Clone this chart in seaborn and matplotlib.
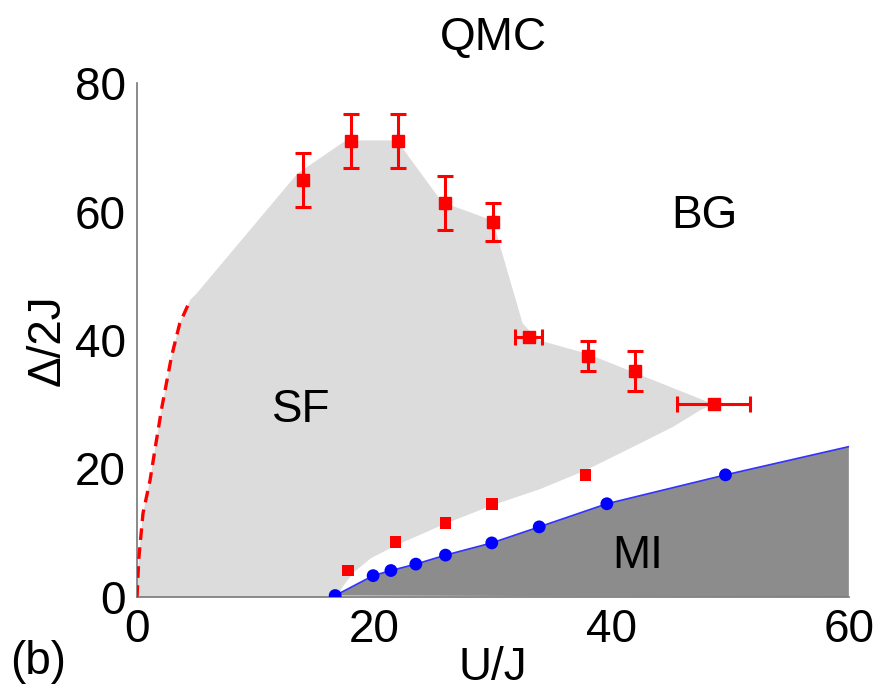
import matplotlib
matplotlib.use("Agg")
import matplotlib.pyplot as plt
import numpy as np
import pandas as pd
import seaborn as sns

# QMC points with error bars (upper SF / BG boundary)
U_top = [14, 18, 22, 26, 30, 33, 38, 42, 48.6]
D_top = [65.0, 71.0, 71.0, 61.3, 58.4, 40.5, 37.5, 35.2, 30.0]
D_err = [4.2, 4.2, 4.2, 4.2, 3.0, 0, 2.3, 3.1, 0]
U_err = [0, 0, 0, 0, 0, 1.1, 0, 0, 3.1]

# lower red squares (SF / BG, no error bars)
U_low = [17.8, 21.8, 26.0, 29.9, 37.8]
D_low = [4.1, 8.5, 11.5, 14.5, 19.0]

# MI boundary (blue dots + line to the edge)
U_mi = [16.7, 19.9, 21.4, 23.5, 26.0, 29.9, 33.9, 39.6, 49.6, 60]
D_mi = [0.2, 3.3, 4.1, 5.1, 6.5, 8.4, 10.9, 14.5, 19.0, 23.4]
n_dots = 9

# dashed red line at small U/J
U_dash = [0, 0.15, 0.5, 1.1, 1.6, 2.1, 2.9, 3.6, 4.5]
D_dash = [0, 6, 13, 18.2, 24, 29.6, 37.4, 42.6, 46.3]

# light gray SF region, upper edge then lower edge
U_sf_up = [5.0, 13.5, 17.6, 21.9, 25.7, 30.0, 30.5, 32.5, 33.8, 37.9, 48.6]
D_sf_up = [47.2, 65.9, 71.1, 71.1, 61.5, 58.6, 55.3, 42.6, 40.0, 37.9, 30.0]
U_sf_low = [48.6, 47.5, 45.2, 42.4, 37.8, 34.0, 30.0, 26.0, 21.8, 19.7, 18.2, 17.3, 16.9]
D_sf_low = [30.0, 29.1, 26.5, 23.9, 19.7, 16.8, 14.3, 11.4, 8.0, 6.0, 3.7, 1.5, 0]

sns.set_style("white")
plt.rcParams['font.family'] = ['Liberation Sans', 'DejaVu Sans']
for k in ["text.color", "axes.labelcolor", "xtick.labelcolor", "ytick.labelcolor"]:
    plt.rcParams[k] = "black"
fs = 33

fig = plt.figure(figsize=(8.87, 6.94), dpi=100)
ax = fig.add_axes([0.1545, 0.140, 0.8025, 0.740])

# regions
poly_u = U_dash + U_sf_up + U_sf_low
poly_d = D_dash + D_sf_up + D_sf_low
ax.fill(poly_u, poly_d, color="#dcdcdc", lw=0, zorder=0)
ax.fill(U_mi + [60], D_mi + [0], color="#8c8c8c", lw=0, zorder=1)

mi = pd.DataFrame({"U": U_mi, "D": D_mi})
sns.lineplot(data=mi, x="U", y="D", color="#3333ff", lw=1.2, ax=ax, zorder=2)
sns.scatterplot(data=mi.iloc[:n_dots], x="U", y="D", color="#0000ff", s=85,
                edgecolor="none", ax=ax, zorder=4)

dash = pd.DataFrame({"U": U_dash, "D": D_dash})
sns.lineplot(data=dash, x="U", y="D", color="#ff0000", lw=2.4, ax=ax,
             sort=False, zorder=3)
ax.lines[-1].set_dashes([3.5, 2.2])

low = pd.DataFrame({"U": U_low, "D": D_low})
sns.scatterplot(data=low, x="U", y="D", color="#ff0000", marker="s", s=70,
                edgecolor="none", ax=ax, zorder=4)

ax.errorbar(U_top, D_top, yerr=D_err, xerr=U_err, fmt="s", color="#ff0000",
            ms=9, elinewidth=2.2, capsize=6, capthick=2.2, zorder=5)

ax.set_xlim(0, 60)
ax.set_ylim(0, 80)
ax.set_xticks([0, 20, 40, 60])
ax.set_yticks([0, 20, 40, 60, 80])
sns.despine(ax=ax)
for s in ["left", "bottom"]:
    ax.spines[s].set_color("#777777")
    ax.spines[s].set_linewidth(1.2)
ax.tick_params(direction="in", length=5, width=1, color="#555555",
               labelsize=fs)
ax.tick_params(axis="x", pad=8)
ax.tick_params(axis="y", pad=8)
ax.set_xlabel("U/J", fontsize=fs, labelpad=-4)
ax.set_ylabel("Δ/2J", fontsize=fs, labelpad=4)
ax.set_title("QMC", fontsize=fs, pad=24)

ax.text(13.8, 29.1, "SF", fontsize=fs, ha="center", va="center")
ax.text(47.8, 59.4, "BG", fontsize=fs, ha="center", va="center")
ax.text(42.2, 6.3, "MI", fontsize=fs, ha="center", va="center", zorder=6)
fig.text(38 / 887, 1 - 662 / 694, "(b)", fontsize=fs, ha="center", va="center")

fig.savefig("out.png", dpi=100)
